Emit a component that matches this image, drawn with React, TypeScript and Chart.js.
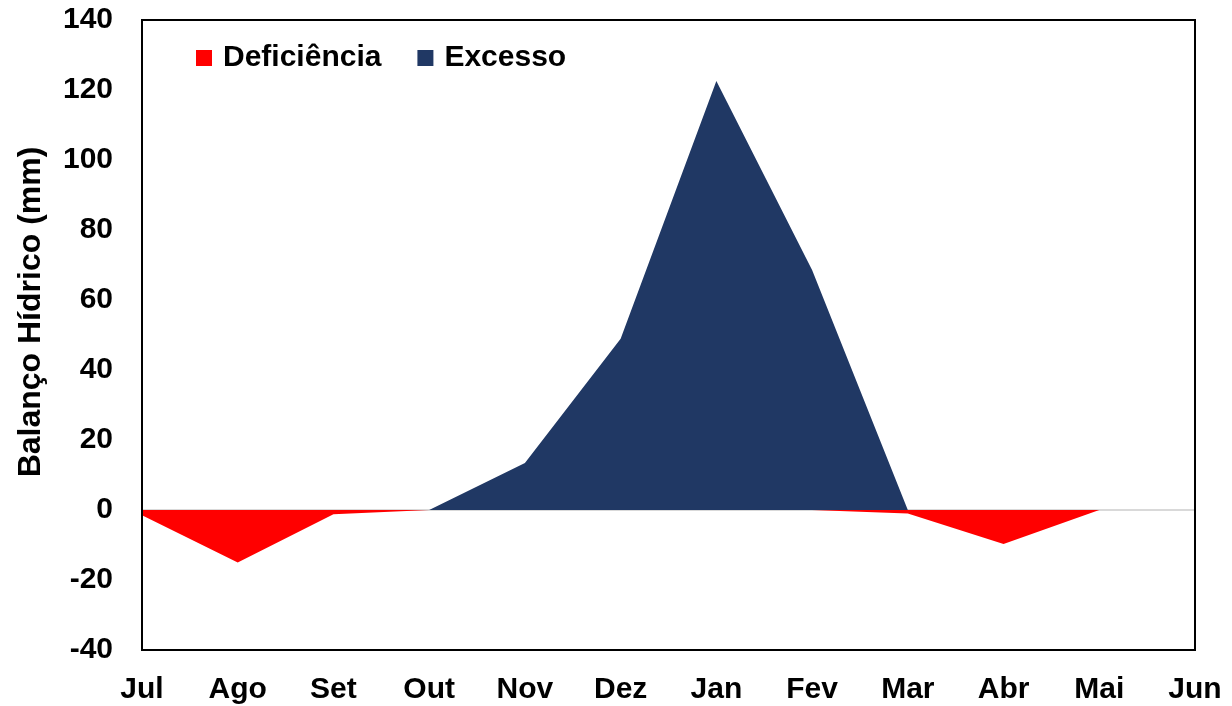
import React, { useEffect, useRef } from "react";
import { Chart, registerables } from "chart.js";

Chart.register(...registerables);

const months = ["Jul", "Ago", "Set", "Out", "Nov", "Dez", "Jan", "Fev", "Mar", "Abr", "Mai", "Jun"];
const deficiencia = [-1.5, -15, -1.2, 0, 0, 0, 0, 0, -1, -9.7, 0, 0];
const excesso = [0, 0, 0, 0, 13.4, 48.9, 122.6, 68.6, 0, 0, 0, 0];
const yTitle = "Balanço Hídrico (mm)";

const FONT = "'Liberation Sans', Arial, sans-serif";

const frameAndLegend = {
  id: "frameAndLegend",
  afterDraw(chart: any) {
    const { ctx, chartArea } = chart;
    ctx.save();
    ctx.strokeStyle = "#000000";
    ctx.lineWidth = 2;
    ctx.strokeRect(chartArea.left, chartArea.top, chartArea.right - chartArea.left, chartArea.bottom - chartArea.top);
    // legend
    ctx.font = `bold 30px ${FONT}`;
    ctx.textBaseline = "middle";
    ctx.textAlign = "left";
    let x = 196;
    const yc = 58;
    chart.data.datasets.forEach((ds: any) => {
      ctx.fillStyle = ds.backgroundColor;
      ctx.fillRect(x, yc - 8, 16, 16);
      ctx.fillStyle = "#000000";
      ctx.fillText(ds.label, x + 27, yc);
      x += 27 + ctx.measureText(ds.label).width + 36;
    });
    ctx.restore();
    // y axis title
    ctx.save();
    ctx.translate(40, 312);
    ctx.rotate(-Math.PI / 2);
    ctx.font = `bold 32px ${FONT}`;
    ctx.fillStyle = "#000000";
    ctx.textAlign = "center";
    ctx.textBaseline = "alphabetic";
    ctx.fillText(yTitle, 0, 0);
    ctx.restore();
  },
};

function zeroPad(scale: any) {
  scale.paddingTop = 0;
  scale.paddingBottom = 0;
  scale.paddingLeft = 0;
  scale.paddingRight = 0;
}

export default function App() {
  const ref = useRef<HTMLCanvasElement>(null);
  useEffect(() => {
    if (!ref.current) return;
    const chart = new Chart(ref.current, {
      type: "line",
      data: {
        labels: months,
        datasets: [
          {
            label: "Deficiência",
            data: deficiencia,
            backgroundColor: "#ff0000",
            borderWidth: 0,
            pointRadius: 0,
            fill: "origin",
            tension: 0,
          },
          {
            label: "Excesso",
            data: excesso,
            backgroundColor: "#203864",
            borderWidth: 0,
            pointRadius: 0,
            fill: "origin",
            tension: 0,
          },
        ],
      },
      options: {
        responsive: false,
        animation: false,
        layout: { padding: { top: 20, right: 37, bottom: 0, left: 0 } },
        plugins: {
          legend: { display: false },
          tooltip: { enabled: false },
        },
        scales: {
          x: {
            offset: false,
            grid: { display: false, drawTicks: false },
            border: { display: false },
            ticks: {
              color: "#000000",
              font: { family: FONT, size: 30, weight: "bold" },
              padding: 22,
              maxRotation: 0,
              autoSkip: false,
            },
            afterFit(scale: any) {
              scale.height = 56;
              zeroPad(scale);
            },
          },
          y: {
            min: -40,
            max: 140,
            grid: {
              drawTicks: false,
              lineWidth: 2,
              color: (c: any) => (c.tick && c.tick.value === 0 ? "#d9d9d9" : "rgba(0,0,0,0)"),
            },
            border: { display: false },
            ticks: {
              stepSize: 20,
              color: "#000000",
              font: { family: FONT, size: 30, weight: "bold" },
              padding: 29,
            },
            title: { display: false, text: yTitle },
            afterFit(scale: any) {
              scale.width = 142;
              zeroPad(scale);
            },
          },
        },
      },
      plugins: [frameAndLegend],
    });
    return () => chart.destroy();
  }, []);
  return (
    <div style={{ position: "fixed", left: 0, top: 0, width: 1232, height: 706, background: "#ffffff" }}>
      <canvas ref={ref} width={1232} height={706} />
    </div>
  );
}
